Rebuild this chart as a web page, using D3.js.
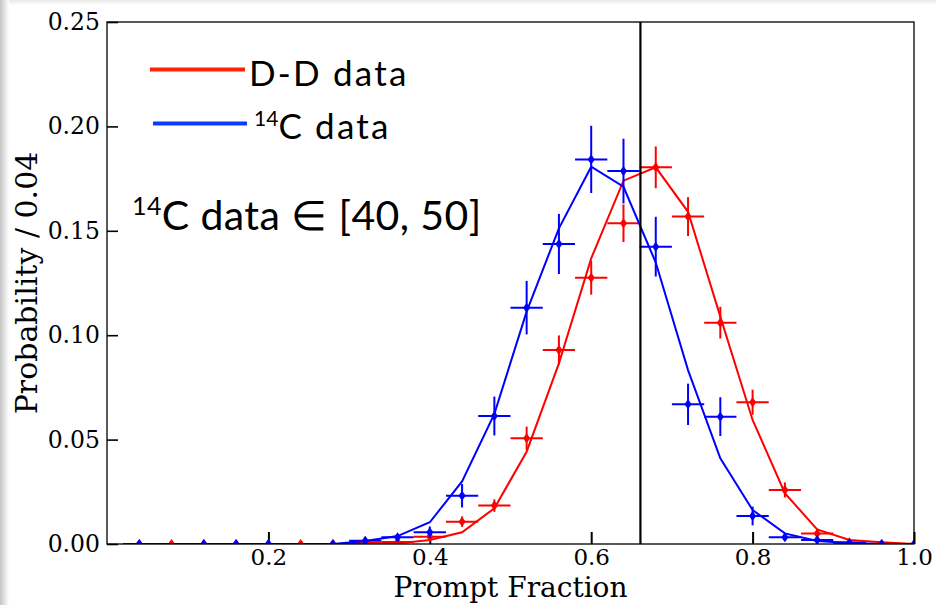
<!DOCTYPE html>
<html>
<head>
<meta charset="utf-8">
<script src="https://cdn.jsdelivr.net/npm/d3@7"></script>
<style>
  body { margin: 0; background: #fff; }
  svg { display: block; }
</style>
</head>
<body>
<svg id="chart" width="936" height="605"></svg>
<script>
// bin centres (prompt fraction), width 0.04
const bins = [0.04, 0.08, 0.12, 0.16, 0.20, 0.24, 0.28, 0.32, 0.36, 0.40, 0.44, 0.48, 0.52,
              0.56, 0.60, 0.64, 0.68, 0.72, 0.76, 0.80, 0.84, 0.88, 0.92, 0.96, 1.00];

// 14C data points + errors
const carbonData = [0, null, 0, 0, 0, null, 0, 0.0016, 0.0032, 0.0056, 0.0231, 0.0613, 0.1132,
                    0.1437, 0.1842, 0.1786, 0.1424, 0.0669, 0.0610, 0.0134, 0.0032, 0.0019, 0.0005, 0, 0];
const carbonErr  = [0, null, 0, 0, 0, null, 0, 0.0008, 0.0015, 0.0028, 0.0056, 0.0093, 0.0128,
                    0.0144, 0.0161, 0.0155, 0.0143, 0.0099, 0.0093, 0.0045, 0.0018, 0.0010, 0.0005, 0, 0];
// D-D data points + errors
const ddData = [0, 0, 0, 0, 0, 0, 0, 0.0005, 0.0010, 0.0035, 0.0107, 0.0184, 0.0506,
                0.0929, 0.1275, 0.1536, 0.1804, 0.1568, 0.1060, 0.0679, 0.0259, 0.0050, 0.0008, 0, null];
const ddErr  = [0, 0, 0, 0, 0, 0, 0, 0.0003, 0.0005, 0.0015, 0.0025, 0.0030, 0.0056,
                0.0070, 0.0081, 0.0090, 0.0100, 0.0093, 0.0076, 0.0060, 0.0036, 0.0024, 0.0005, 0, null];

// curves through the bins
const carbonCurve = [0, 0, 0, 0, 0, 0, 0, 0.0014, 0.0038, 0.0104, 0.0300, 0.0623, 0.1113,
                     0.1512, 0.1807, 0.1711, 0.1348, 0.0833, 0.0410, 0.0163, 0.0051, 0.0014, 0.0005, 0, 0];
const ddCurve = [0, 0, 0, 0, 0, 0, 0, 0, 0.0003, 0.0019, 0.0056, 0.0171, 0.0442,
                 0.0865, 0.1368, 0.1740, 0.1804, 0.1591, 0.1089, 0.0594, 0.0243, 0.0070, 0.0019, 0.0008, 0];

const cut = 0.661;            // vertical marker line
const binHalf = 0.02;
const xTicks = [0.2, 0.4, 0.6, 0.8, 1.0];
const yTicks = [0, 0.05, 0.10, 0.15, 0.20, 0.25];

const svg = d3.select("#chart");
const L = 107, R = 914, T = 22, B = 544;

var x = d3.scaleLinear().domain([0, 1]).range([L, R]);
var y = d3.scaleLinear().domain([0, 0.25]).range([B, T]);

// slide-ish shadow at left/top edge
const defs = svg.append("defs");
const g1 = defs.append("linearGradient").attr("id", "shL");
g1.append("stop").attr("offset", 0).attr("stop-color", "#c4c4c4");
g1.append("stop").attr("offset", 1).attr("stop-color", "#fff");
const g2 = defs.append("linearGradient").attr("id", "shT").attr("x2", 0).attr("y2", 1);
g2.append("stop").attr("offset", 0).attr("stop-color", "#e8e8e8");
g2.append("stop").attr("offset", 1).attr("stop-color", "#fff");
svg.append("rect").attr("width", 936).attr("height", 5).attr("fill", "url(#shT)");
svg.append("rect").attr("width", 9).attr("height", 605).attr("fill", "url(#shL)");

defs.append("clipPath").attr("id", "plot")
    .append("rect").attr("x", L).attr("y", T).attr("width", R - L).attr("height", B - T);

// axes
svg.append("g").attr("transform", `translate(${L},0)`)
    .call(d3.axisLeft(y).tickValues(yTicks).tickFormat(d3.format(".2f"))
          .tickSizeInner(-11).tickSizeOuter(0).tickPadding(7))
    .call(g => g.select(".domain").remove())
    .call(g => g.selectAll("line").attr("stroke-width", 1.6))
    .call(g => g.selectAll("text").attr("font-family", "DejaVu Serif").attr("font-size", 23.5));

svg.append("g").attr("transform", `translate(0,${B})`)
    .call(d3.axisBottom(x).tickValues(xTicks).tickFormat(d3.format(".1f"))
          .tickSizeInner(-12).tickSizeOuter(0).tickPadding(5))
    .call(g => g.select(".domain").remove())
    .call(g => g.selectAll("line").attr("stroke-width", 2))
    .call(g => g.selectAll("text").attr("font-family", "DejaVu Serif").attr("font-size", 23));

svg.append("text").attr("x", (L + R) / 2).attr("y", 597)
    .attr("text-anchor", "middle").attr("font-family", "DejaVu Serif").attr("font-size", 28)
    .text("Prompt Fraction");
svg.append("text").attr("transform", `translate(37,${(T + B) / 2}) rotate(-90)`)
    .attr("text-anchor", "middle").attr("font-family", "DejaVu Serif").attr("font-size", 30)
    .text("Probability / 0.04");

const plot = svg.append("g").attr("clip-path", "url(#plot)");

function drawSeries(vals, errs, curve, color) {
    var line = d3.line().x((d, i) => x(bins[i])).y(d => y(d));
    plot.append("path").datum(curve).attr("d", line)
        .attr("fill", "none").attr("stroke", color).attr("stroke-width", 2);

    var pts = bins.map((b, i) => ({ b: b, v: vals[i], e: errs[i] })).filter(d => d.v != null);
    var g = plot.append("g").attr("stroke", color).attr("stroke-width", 2);
    g.selectAll(".h").data(pts).enter().append("line")
        .attr("x1", d => x(d.b - binHalf)).attr("x2", d => x(d.b + binHalf))
        .attr("y1", d => y(d.v)).attr("y2", d => y(d.v));
    g.selectAll(".v").data(pts).enter().append("line")
        .attr("x1", d => x(d.b)).attr("x2", d => x(d.b))
        .attr("y1", d => y(d.v - d.e)).attr("y2", d => y(d.v + d.e));
    plot.append("g").selectAll("path").data(pts).enter().append("path")
        .attr("transform", d => `translate(${x(d.b)},${y(d.v)})`)
        .attr("d", "M0,-5L3.6,0L0,5L-3.6,0Z").attr("fill", color);
}

drawSeries(ddData, ddErr, ddCurve, "#ff0000");
drawSeries(carbonData, carbonErr, carbonCurve, "#0000ff");

// cut line
svg.append("line").attr("x1", x(cut)).attr("x2", x(cut)).attr("y1", T).attr("y2", B)
    .attr("stroke", "#000").attr("stroke-width", 2.2);

// frame
svg.append("rect").attr("x", L).attr("y", T).attr("width", R - L).attr("height", B - T)
    .attr("fill", "none").attr("stroke", "#000").attr("stroke-width", 1.3);

// legend
const lg = svg.append("g").attr("font-family", "Lato");
lg.append("line").attr("x1", 150).attr("x2", 245).attr("y1", 69.5).attr("y2", 69.5)
    .attr("stroke", "#ff2200").attr("stroke-width", 4);
lg.append("line").attr("x1", 153).attr("x2", 247).attr("y1", 123.5).attr("y2", 123.5)
    .attr("stroke", "#0a3cff").attr("stroke-width", 4);
lg.append("text").attr("x", 249).attr("y", 86).attr("font-size", 35)
    .attr("letter-spacing", 2.2).text("D-D data");
var t2 = lg.append("text").attr("x", 254).attr("y", 139).attr("font-size", 35)
    .attr("letter-spacing", 2.2);
t2.append("tspan").attr("font-size", 21).attr("letter-spacing", 0).attr("dy", -13).text("14");
t2.append("tspan").attr("dy", 13).text("C data");

var t3 = svg.append("text").attr("x", 132).attr("y", 230)
    .attr("font-family", "Lato").attr("font-size", 41).attr("letter-spacing", 0.4);
t3.append("tspan").attr("font-size", 25).attr("dy", -15).text("14");
t3.append("tspan").attr("dy", 15).text("C data ∈ [40, 50]");
</script>
</body>
</html>
